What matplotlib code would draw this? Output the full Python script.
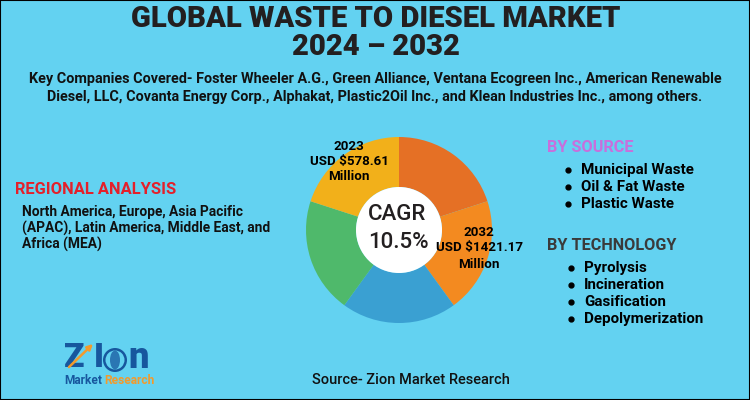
"""Global waste to diesel market infographic with a donut in the middle."""

import matplotlib
matplotlib.use("Agg")
import matplotlib.pyplot as plt
from matplotlib.patches import Circle, Ellipse, Rectangle

W, H = 750, 400
BG = "#63d2f1"
DARK = "#231f20"
LOGO_BLUE = "#17579e"
LOGO_ORANGE = "#f39a2b"

slice_values = [1, 1, 1, 1, 1]
slice_colors = ["#e57025", "#f38a20", "#3aa0d2", "#4fb96b", "#f2b01a"]

title_lines = ["GLOBAL WASTE TO DIESEL MARKET", "2024 – 2032"]
companies_lines = [
  "Key Companies Covered- Foster Wheeler A.G., Green Alliance, Ventana Ecogreen Inc., American Renewable",
  "Diesel, LLC, Covanta Energy Corp., Alphakat, Plastic2Oil Inc., and Klean Industries Inc., among others.",
]
region_lines = [
  "North America, Europe, Asia Pacific",
  "(APAC), Latin America, Middle East, and",
  "Africa (MEA)",
]
source_items = ["Municipal Waste", "Oil & Fat Waste", "Plastic Waste"]
technology_items = ["Pyrolysis", "Incineration", "Gasification", "Depolymerization"]
label_2023 = ["2023", "USD $578.61", "Million"]
label_2032 = ["2032", "USD $1421.17", "Million"]

plt.rcParams["font.family"] = ["Noto Sans", "DejaVu Sans"]

fig = plt.figure(figsize=(W / 100, H / 100), dpi=100, facecolor=BG)

# page axes in pixel coordinates, y pointing down like the image
page = fig.add_axes([0, 0, 1, 1], zorder=1)
page.set_xlim(0, W)
page.set_ylim(H, 0)
page.axis("off")
page.patch.set_alpha(0)
page.add_patch(Rectangle((0, 0), W, H, fill=False, ec="black", lw=1.5))

# donut
cx, cy, r = 399, 230, 93
pie_ax = fig.add_axes([(cx - r) / W, 1 - (cy + r) / H, 2 * r / W, 2 * r / H], zorder=0)
pie_ax.pie(slice_values, colors=slice_colors, startangle=90, counterclock=False,
           radius=1, wedgeprops={"width": 1 - 43 / 93, "linewidth": 0})
pie_ax.set_xlim(-1, 1)
pie_ax.set_ylim(-1, 1)
page.add_patch(Circle((cx, cy), 43, fc="white", ec="none"))


def txt(x, y, s, size, ha="left", color="black", weight="bold", family="Roboto"):
  return page.text(x, y, s, fontsize=size, ha=ha, va="center", color=color,
                   fontweight=weight, family=family)


for y, s in zip([19, 47], title_lines):
  txt(376, y, s, 21.1, ha="center", color=DARK, weight="black")
for y, s in zip([79, 97], companies_lines):
  txt(375, y, s, 10.35, ha="center", color="#111111")

txt(15, 190, "REGIONAL ANALYSIS", 11.9, color="#e4202a")
for y, s in zip([212, 228, 244], region_lines):
  txt(22, y, s, 9.9, color="#111111")

txt(547, 148, "BY SOURCE", 11.7, color="#c86fdc")
for y, s in zip([170, 187, 204], source_items):
  txt(581, y, s, 10.9)
  page.plot(568, y, "o", color="black", ms=3.5)

txt(547, 246, "BY TECHNOLOGY", 11.7, color="#3a3a3a")
for y, s in zip([268, 285, 302, 319], technology_items):
  txt(584, y, s, 10.9)
  page.plot(571, y, "o", color="black", ms=3.5)

for y, s in zip([147, 162, 177], label_2023):
  txt(349, y, s, 9.6, ha="center")
for y, s in zip([233, 248, 264], label_2032):
  txt(479, y, s, 9.6, ha="center")

txt(397, 214, "CAGR", 16, ha="center", color=DARK, weight="medium")
txt(398, 243, "10.5%", 16, ha="center", color=DARK, weight="medium")

txt(411, 380, "Source- Zion Market Research", 10.5, ha="center", color="#111111", weight="medium")

# logo, rough version
txt(64, 358, "Z", 24, color=LOGO_BLUE, weight="black")
txt(94, 358, "I", 24, color=LOGO_BLUE, weight="black")
page.add_patch(Circle((115, 360), 12, fc=LOGO_BLUE, ec="none"))
page.add_patch(Circle((115, 360), 9.5, fc=BG, ec="none"))
page.add_patch(Ellipse((115, 360), 10, 19, fc=LOGO_BLUE, ec="none", alpha=0.75))
txt(128, 358, "n", 26, color=LOGO_BLUE, weight="black")
page.annotate("", xy=(95, 342), xytext=(67, 369),
              arrowprops={"arrowstyle": "-|>", "color": LOGO_ORANGE, "lw": 1.8, "mutation_scale": 8})
txt(64, 380, "Market", 8.6, color=LOGO_BLUE)
txt(104, 380, "Research", 8.6, color=LOGO_ORANGE)

fig.savefig("out.png", dpi=100, facecolor=BG)
